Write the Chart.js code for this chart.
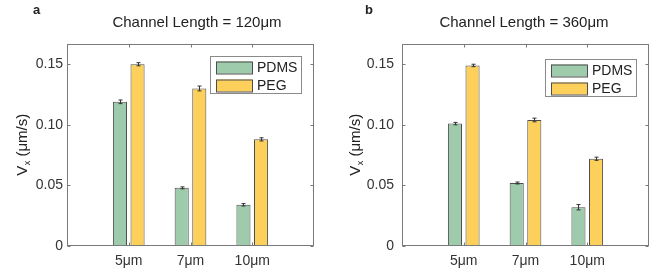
<!DOCTYPE html>
<html>
<head>
<title>Channel length bars</title>
<script src="https://cdn.jsdelivr.net/npm/chart.js"></script>
<style>
body { margin: 0; background: #fff; }
#wrap { position: relative; width: 665px; height: 274px; }
canvas { position: absolute; top: 0; }
</style>
</head>
<body>
<div id="wrap">
<canvas id="chart_a" width="332" height="274" style="left:0"></canvas>
<canvas id="chart_b" width="333" height="274" style="left:332px"></canvas>
</div>

<script>
// data
const categories = ['5μm', '7μm', '10μm'];
const seriesNames = ['PDMS', 'PEG'];
const yTicks = [0, 0.05, 0.10, 0.15];

const pdms120 = [0.119, 0.048, 0.034];
const peg120 = [0.150, 0.130, 0.088];
const pdms120Err = [0.0015, 0.0008, 0.0010];
const peg120Err = [0.0013, 0.0020, 0.0013];

const pdms360 = [0.101, 0.052, 0.032];
const peg360 = [0.149, 0.104, 0.072];
const pdms360Err = [0.0010, 0.0008, 0.0022];
const peg360Err = [0.0010, 0.0015, 0.0013];

const FONT = '"Liberation Sans", Arial, sans-serif';
const fills = ['#9dcbab', '#fdd05b'];
const edge = '#4d4d4d';

Chart.defaults.font.family = FONT;
Chart.defaults.color = '#333';

// pad with empty slots so the 3 groups sit at 1/4, 1/2, 3/4 of the axis
function pad(arr) { return [null, ...arr, null]; }

const decor = {
    id: 'decor',
    afterDatasetsDraw(chart, args, o) {
        const ctx = chart.ctx, y = chart.scales.y;
        ctx.save();
        ctx.strokeStyle = '#333';
        ctx.lineWidth = 1;
        chart.data.datasets.forEach((ds, di) => {
            const meta = chart.getDatasetMeta(di);
            ds.err.forEach((e, i) => {
                const v = ds.data[i];
                if (v == null) return;
                const x = Math.round(meta.data[i].x) + 0.5;
                const y1 = y.getPixelForValue(v - e), y2 = y.getPixelForValue(v + e);
                ctx.beginPath();
                ctx.moveTo(x, y1); ctx.lineTo(x, y2);
                ctx.moveTo(x - 2, y1); ctx.lineTo(x + 2, y1);
                ctx.moveTo(x - 2, y2); ctx.lineTo(x + 2, y2);
                ctx.stroke();
            });
        });
        ctx.restore();
    },
    afterDraw(chart, args, o) {
        const ctx = chart.ctx, a = chart.chartArea;
        const xs = chart.scales.x, ys = chart.scales.y;
        ctx.save();
        // axes box
        ctx.strokeStyle = '#7a7a7a';
        ctx.lineWidth = 1;
        const L = Math.round(a.left) + 0.5, R = Math.round(a.right) - 0.5;
        const T = Math.round(a.top) + 0.5, B = Math.round(a.bottom) - 0.5;
        ctx.strokeRect(L, T, R - L, B - T);
        ctx.beginPath();
        for (let i = 1; i <= categories.length; i++) {
            const px = Math.round(xs.getPixelForTick(i)) + 0.5;
            ctx.moveTo(px, B); ctx.lineTo(px, B - 3);
            ctx.moveTo(px, T); ctx.lineTo(px, T + 3);
        }
        yTicks.forEach(v => {
            const py = Math.round(ys.getPixelForValue(v)) + 0.5;
            ctx.moveTo(L, py); ctx.lineTo(L + 3, py);
            ctx.moveTo(R, py); ctx.lineTo(R - 3, py);
        });
        ctx.stroke();

        // legend
        const lx = a.right - o.legendRight, ly = a.top + o.legendTop;
        ctx.fillStyle = '#fff';
        ctx.fillRect(lx, ly, 91, 37);
        ctx.strokeStyle = '#8a8a8a';
        ctx.strokeRect(lx + 0.5, ly + 0.5, 91, 37);
        ctx.font = '14px ' + FONT;
        ctx.textBaseline = 'middle';
        seriesNames.forEach((n, i) => {
            const sy = ly + 5.5 + i * 18;
            ctx.fillStyle = fills[i];
            ctx.fillRect(lx + 6, sy, 36, 12);
            ctx.strokeStyle = edge;
            ctx.strokeRect(lx + 6.5, sy + 0.5, 36, 12);
            ctx.fillStyle = '#222';
            ctx.fillText(n, lx + 47, sy + 7);
        });

        // title and panel letter
        ctx.fillStyle = '#222';
        ctx.textBaseline = 'alphabetic';
        ctx.textAlign = 'center';
        ctx.font = '15px ' + FONT;
        ctx.fillText(o.title, o.titleX, 27);
        ctx.textAlign = 'left';
        ctx.font = 'bold 13px ' + FONT;
        ctx.fillText(o.letter, o.letterX, 14);

        // y label with subscript
        ctx.translate(o.labelX, (a.top + a.bottom) / 2);
        ctx.rotate(-Math.PI / 2);
        ctx.font = '15px ' + FONT;
        const wV = ctx.measureText('V').width;
        const rest = ' (μm/s)';
        const wR = ctx.measureText(rest).width;
        ctx.font = '9px ' + FONT;
        const wX = ctx.measureText('x').width;
        let x0 = -(wV + wX + wR) / 2;
        ctx.font = '15px ' + FONT;
        ctx.fillText('V', x0, 0);
        ctx.font = '9px ' + FONT;
        ctx.fillText('x', x0 + wV + 0.5, 3);
        ctx.font = '15px ' + FONT;
        ctx.fillText(rest, x0 + wV + wX + 0.5, 0);
        ctx.restore();
    }
};

function makeChart(id, pdms, peg, pdmsErr, pegErr, o) {
    const ctx = document.getElementById(id).getContext('2d');
    const W = ctx.canvas.width;
    return new Chart(ctx, {
        type: 'bar',
        data: {
            labels: ['', ...categories, ''],
            datasets: [{
                label: seriesNames[0],
                data: pad(pdms),
                err: pad(pdmsErr),
                backgroundColor: fills[0],
                borderColor: edge,
                borderWidth: 1,
                borderSkipped: false
            }, {
                label: seriesNames[1],
                data: pad(peg),
                err: pad(pegErr),
                backgroundColor: fills[1],
                borderColor: edge,
                borderWidth: 1,
                borderSkipped: false
            }]
        },
        options: {
            responsive: false,
            animation: false,
            devicePixelRatio: 1,
            categoryPercentage: 0.57,
            barPercentage: 0.8,
            layout: { padding: { left: 0, right: W - o.plotRight, top: 44, bottom: 0 } },
            scales: {
                x: {
                    offset: false,
                    grid: { display: false, drawTicks: false },
                    border: { display: false },
                    ticks: { padding: 7, autoSkip: false, maxRotation: 0, font: { size: 14 }, color: '#333' },
                    afterFit(s) { s.height = 28; }
                },
                y: {
                    min: 0,
                    max: 0.1667,
                    grid: { display: false, drawTicks: false },
                    border: { display: false },
                    ticks: {
                        stepSize: 0.05,
                        includeBounds: false,
                        padding: o.tickPad,
                        font: { size: 14 },
                        color: '#333',
                        callback: v => v === 0 ? '0' : v.toFixed(2)
                    },
                    afterFit(s) { s.width = o.plotLeft; }
                }
            },
            plugins: {
                legend: { display: false },
                tooltip: { enabled: false },
                decor: o
            }
        },
        plugins: [decor]
    });
}

makeChart('chart_a', pdms120, peg120, pdms120Err, peg120Err, {
    plotLeft: 67, plotRight: 314, tickPad: 4,
    title: 'Channel Length = 120μm', titleX: 197, letter: 'a', letterX: 33,
    labelX: 27, legendRight: 104, legendTop: 12
});
makeChart('chart_b', pdms360, peg360, pdms360Err, peg360Err, {
    plotLeft: 70, plotRight: 317, tickPad: 8,
    title: 'Channel Length = 360μm', titleX: 192, letter: 'b', letterX: 33,
    labelX: 28, legendRight: 104, legendTop: 15
});
</script>
</body>
</html>
